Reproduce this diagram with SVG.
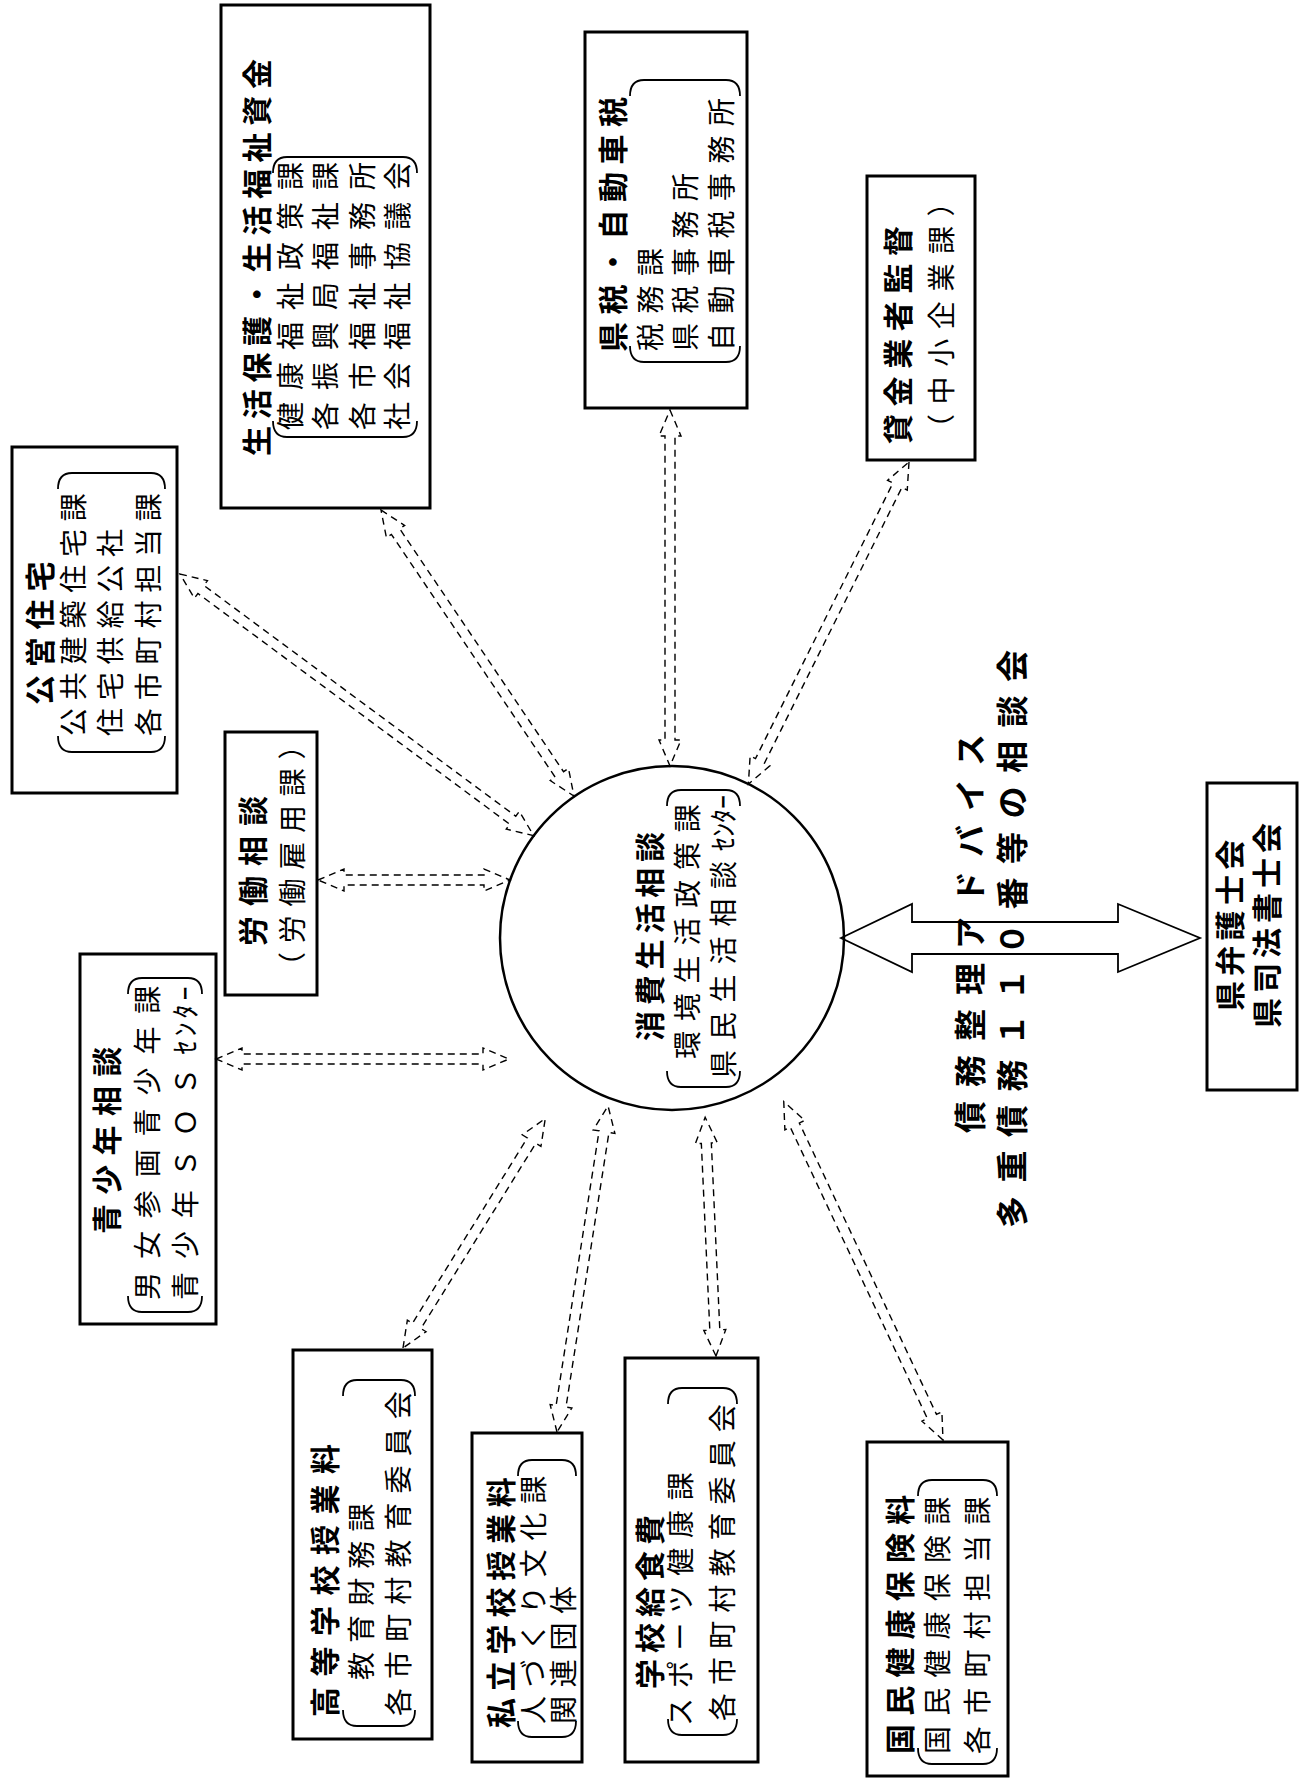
<svg xmlns="http://www.w3.org/2000/svg" width="1309" height="1781" viewBox="0 0 1309 1781">
<defs>
<style>
.box{fill:none;stroke:#000;stroke-width:3}
.br{fill:none;stroke:#000;stroke-width:1.8}
.con{fill:none;stroke:#000;stroke-width:1.4;stroke-dasharray:7 5}
.h{font-family:"Noto Sans CJK JP",sans-serif;font-size:30px;font-weight:bold;fill:#000}
.s{font-family:"Noto Sans CJK JP",sans-serif;font-size:28px;fill:#000}
.t{font-family:"Noto Sans CJK JP",sans-serif;font-size:32px;font-weight:bold;fill:#000}
</style>
</defs>
<rect width="1309" height="1781" fill="#fff"/>

<g id="connectors">
<path class="con" transform="translate(180,574) rotate(36.5)" d="M0,0 L26,-11 L26,-5 L414,-5 L414,-11 L440,0 L414,11 L414,5 L26,5 L26,11 Z"/>
<path class="con" transform="translate(381,510) rotate(56)" d="M0,0 L26,-11 L26,-5 L319,-5 L319,-11 L345,0 L319,11 L319,5 L26,5 L26,11 Z"/>
<path class="con" transform="translate(670,410) rotate(90)" d="M0,0 L26,-11 L26,-5 L330,-5 L330,-11 L356,0 L330,11 L330,5 L26,5 L26,11 Z"/>
<path class="con" transform="translate(909,462) rotate(116.5)" d="M0,0 L26,-11 L26,-5 L334,-5 L334,-11 L360,0 L334,11 L334,5 L26,5 L26,11 Z"/>
<path class="con" transform="translate(318,880) rotate(0)" d="M0,0 L26,-11 L26,-5 L166,-5 L166,-11 L192,0 L166,11 L166,5 L26,5 L26,11 Z"/>
<path class="con" transform="translate(216,1059) rotate(0)" d="M0,0 L26,-11 L26,-5 L267,-5 L267,-11 L293,0 L267,11 L267,5 L26,5 L26,11 Z"/>
<path class="con" transform="translate(403,1348) rotate(-58.2)" d="M0,0 L26,-11 L26,-5 L244,-5 L244,-11 L270,0 L244,11 L244,5 L26,5 L26,11 Z"/>
<path class="con" transform="translate(557,1432) rotate(-81.1)" d="M0,0 L26,-11 L26,-5 L304,-5 L304,-11 L330,0 L304,11 L304,5 L26,5 L26,11 Z"/>
<path class="con" transform="translate(716,1356) rotate(-92.6)" d="M0,0 L26,-11 L26,-5 L213,-5 L213,-11 L239,0 L213,11 L213,5 L26,5 L26,11 Z"/>
<path class="con" transform="translate(943,1440) rotate(-115.2)" d="M0,0 L26,-11 L26,-5 L348,-5 L348,-11 L374,0 L348,11 L348,5 L26,5 L26,11 Z"/>
<path fill="none" stroke="#000" stroke-width="1.8" d="M841,938 L912,904 L912,922 L1118,922 L1118,904 L1200,938 L1118,972 L1118,954 L912,954 L912,972 Z"/>
</g>

<g id="node-seikatsuhogo">
<rect class="box" x="221" y="5" width="209" height="503"/>
<text class="h" transform="translate(268.4,456) rotate(-90)" letter-spacing="6.7">生活保護・生活福祉資金</text>
<path class="br" d="M273,421 Q273,437 287,437 L403,437 Q417,437 417,421"/>
<path class="br" d="M273,173 Q273,157 287,157 L403,157 Q417,157 417,173"/>
<text class="s" transform="translate(300.6,430) rotate(-90)" letter-spacing="12">健康福祉政策課</text>
<text class="s" transform="translate(335.6,430) rotate(-90)" letter-spacing="12">各振興局福祉課</text>
<text class="s" transform="translate(372.6,430) rotate(-90)" letter-spacing="12">各市福祉事務所</text>
<text class="s" transform="translate(407.6,430) rotate(-90)" letter-spacing="12">社会福祉協議会</text>
</g>

<g id="node-kenzei">
<rect class="box" x="585" y="32" width="162" height="376"/>
<text class="h" transform="translate(624.4,352) rotate(-90)" letter-spacing="7.5">県税・自動車税</text>
<path class="br" d="M630,346 Q630,362 644,362 L726,362 Q740,362 740,346"/>
<path class="br" d="M630,96 Q630,80 644,80 L726,80 Q740,80 740,96"/>
<text class="s" transform="translate(660.6,351) rotate(-90)" letter-spacing="9.5">税務課</text>
<text class="s" transform="translate(695.6,351) rotate(-90)" letter-spacing="9.5">県税事務所</text>
<text class="s" transform="translate(731.6,351) rotate(-90)" letter-spacing="9.5">自動車税事務所</text>
</g>

<g id="node-kashikin">
<rect class="box" x="867" y="176" width="108" height="284"/>
<text class="h" transform="translate(909.4,444) rotate(-90)" letter-spacing="7.6">貸金業者監督</text>
<text class="s" transform="translate(951.6,442) rotate(-90)" letter-spacing="9.6">（中小企業課）</text>
</g>

<g id="node-koei">
<rect class="box" x="12" y="447" width="165" height="346"/>
<text class="h" transform="translate(51.4,705) rotate(-90)" letter-spacing="7.8">公営住宅</text>
<path class="br" d="M58,736 Q58,752 72,752 L151,752 Q165,752 165,736"/>
<path class="br" d="M58,489 Q58,473 72,473 L151,473 Q165,473 165,489"/>
<text class="s" transform="translate(83.6,736) rotate(-90)" letter-spacing="7.8">公共建築住宅課</text>
<text class="s" transform="translate(120.6,736) rotate(-90)" letter-spacing="7.8">住宅供給公社</text>
<text class="s" transform="translate(158.6,736) rotate(-90)" letter-spacing="7.8">各市町村担当課</text>
</g>

<g id="node-rodo">
<rect class="box" x="225" y="732" width="92" height="263"/>
<text class="h" transform="translate(264.4,946) rotate(-90)" letter-spacing="10">労働相談</text>
<text class="s" transform="translate(302.6,980) rotate(-90)" letter-spacing="8.75">（労働雇用課）</text>
</g>

<g id="node-seishonen">
<rect class="box" x="80" y="954" width="136" height="370"/>
<text class="h" transform="translate(118.4,1234) rotate(-90)" letter-spacing="9.3">青少年相談</text>
<path class="br" d="M128,1296 Q128,1312 142,1312 L188,1312 Q202,1312 202,1296"/>
<path class="br" d="M128,994 Q128,978 142,978 L188,978 Q202,978 202,994"/>
<text class="s" transform="translate(157.6,1300) rotate(-90)" letter-spacing="12.9">男女参画青少年課</text>
<text class="s" transform="translate(195.6,1300) rotate(-90)" letter-spacing="12.9">青少年ＳＯＳ</text>
<text class="s" transform="translate(195.6,1054.6) rotate(-90)" letter-spacing="4">ｾﾝﾀｰ</text>
</g>

<g id="node-koko">
<rect class="box" x="293" y="1350" width="139" height="389"/>
<text class="h" transform="translate(336.4,1717) rotate(-90)" letter-spacing="10.5">高等学校授業料</text>
<path class="br" d="M343,1710 Q343,1726 357,1726 L401,1726 Q415,1726 415,1710"/>
<path class="br" d="M343,1396 Q343,1380 357,1380 L401,1380 Q415,1380 415,1396"/>
<text class="s" transform="translate(371.6,1680) rotate(-90)" letter-spacing="9.1">教育財務課</text>
<text class="s" transform="translate(408.6,1716) rotate(-90)" letter-spacing="9.1">各市町村教育委員会</text>
</g>

<g id="node-shiritsu">
<rect class="box" x="472" y="1433" width="110" height="329"/>
<text class="h" transform="translate(512.4,1728) rotate(-90)" letter-spacing="6.8">私立学校授業料</text>
<path class="br" d="M518,1721 Q518,1737 532,1737 L562,1737 Q576,1737 576,1721"/>
<path class="br" d="M518,1476 Q518,1460 532,1460 L562,1460 Q576,1460 576,1476"/>
<text class="s" transform="translate(543.6,1724) rotate(-90)" letter-spacing="8.7">人づくり文化課</text>
<text class="s" transform="translate(573.6,1724) rotate(-90)" letter-spacing="8.7">関連団体</text>
</g>

<g id="node-kyushoku">
<rect class="box" x="625" y="1358" width="133" height="404"/>
<text class="h" transform="translate(661.4,1689) rotate(-90)" letter-spacing="6">学校給食費</text>
<path class="br" d="M668,1719 Q668,1735 682,1735 L723,1735 Q737,1735 737,1719"/>
<path class="br" d="M668,1404 Q668,1388 682,1388 L723,1388 Q737,1388 737,1404"/>
<text class="s" transform="translate(690.6,1726) rotate(-90)" letter-spacing="9.7">スポーツ健康課</text>
<text class="s" transform="translate(732.6,1721) rotate(-90)" letter-spacing="8.1">各市町村教育委員会</text>
</g>

<g id="node-kokuho">
<rect class="box" x="867" y="1442" width="141" height="334"/>
<text class="h" transform="translate(911.4,1754) rotate(-90)" letter-spacing="8.2">国民健康保険料</text>
<path class="br" d="M918,1748 Q918,1764 932,1764 L983,1764 Q997,1764 997,1748"/>
<path class="br" d="M918,1496 Q918,1480 932,1480 L983,1480 Q997,1480 997,1496"/>
<text class="s" transform="translate(947.6,1754) rotate(-90)" letter-spacing="10.2">国民健康保険課</text>
<text class="s" transform="translate(987.6,1754) rotate(-90)" letter-spacing="10.2">各市町村担当課</text>
</g>

<g id="node-bengoshi">
<rect class="box" x="1207" y="783" width="90" height="307"/>
<text class="h" transform="translate(1241.4,1011) rotate(-90)" letter-spacing="5.3">県弁護士会</text>
<text class="h" transform="translate(1278.4,1028) rotate(-90)" letter-spacing="5">県司法書士会</text>
</g>

<g id="node-shohi">
<circle cx="672" cy="938" r="172" fill="none" stroke="#000" stroke-width="2.5"/>
<text class="h" transform="translate(661.4,1041) rotate(-90)" letter-spacing="5.8">消費生活相談</text>
<path class="br" d="M667,1071 Q667,1087 681,1087 L726,1087 Q740,1087 740,1071"/>
<path class="br" d="M667,806 Q667,790 681,790 L726,790 Q740,790 740,806"/>
<text class="s" transform="translate(697.6,1059) rotate(-90)" letter-spacing="9.8">環境生活政策課</text>
<text class="s" transform="translate(733.6,1078) rotate(-90)" letter-spacing="9.8">県民生活相談</text>
<text class="s" transform="translate(733.6,851) rotate(-90)">ｾﾝﾀｰ</text>
</g>

<g id="title">
<text class="t" transform="translate(982.2,1133) rotate(-90)" letter-spacing="14">債務整理アドバイス</text>
<text class="t" transform="translate(1024.2,1228) rotate(-90)" letter-spacing="13.5">多重債務１１０番等の相談会</text>
</g>
</svg>
